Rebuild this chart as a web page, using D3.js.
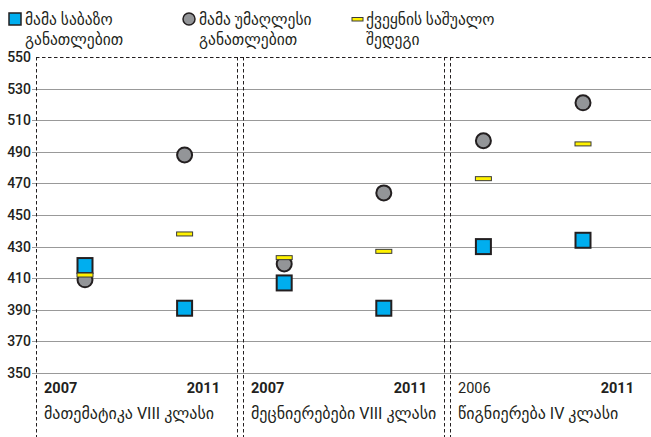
<!DOCTYPE html>
<html>
<head>
<meta charset="utf-8">
<script src="https://cdn.jsdelivr.net/npm/d3@7"></script>
<style>
  body { margin: 0; background: #fff; }
  svg text { font-family: Roboto, "DejaVu Sans", sans-serif; fill: #231f20; }
</style>
</head>
<body>
<div id="chart"></div>
<script>
const subjects = ["მათემატიკა VIII კლასი", "მეცნიერებები VIII კლასი", "წიგნიერება IV კლასი"];
const years = [["2007", "2011"], ["2007", "2011"], ["2006", "2011"]];
const motherBasic = [418, 391, 407, 391, 430, 434];
const motherHigher = [409, 488, 419, 464, 497, 521];
const countryAvg = [412, 438, 423, 427, 473, 495];
const yTicks = [350, 370, 390, 410, 430, 450, 470, 490, 510, 530, 550];
const legendLabels = [
    ["მამა საბაზო", "განათლებით"],
    ["მამა უმაღლესი", "განათლებით"],
    ["ქვეყნის საშუალო", "შედეგი"]
];

const width = 651, height = 437;
const plotLeft = 36, plotRight = 651, plotTop = 57, plotBottom = 373;
const ink = "#231f20";

const svg = d3.select("#chart")
    .append("svg")
    .attr("width", width)
    .attr("height", height);

const keys = subjects.flatMap((s, i) => years[i].map(yr => i + "-" + yr));

const panel = d3.scaleBand()
    .domain(subjects)
    .range([33, 654]);

const x = d3.scalePoint()
    .domain(keys)
    .range([85, 583]);

const y = d3.scaleLinear()
    .domain([350, 550])
    .range([plotBottom, plotTop]);

// grid lines + tick labels
svg.append("g")
    .selectAll("line")
    .data(yTicks.slice(0, -1))
    .enter()
    .append("line")
    .attr("x1", plotLeft - 4)
    .attr("x2", plotRight)
    .attr("y1", d => Math.round(y(d)) + 0.5)
    .attr("y2", d => Math.round(y(d)) + 0.5)
    .attr("stroke", "#999")
    .attr("stroke-width", 1);

svg.append("g")
    .selectAll("text")
    .data(yTicks)
    .enter()
    .append("text")
    .attr("x", plotLeft - 5)
    .attr("y", d => y(d) + 5)
    .attr("text-anchor", "end")
    .attr("font-size", 14)
    .attr("font-weight", 500)
    .text(d => d);

// dashed frame
const dash = "3.5,2.5";
svg.append("line")
    .attr("x1", plotLeft).attr("x2", plotRight)
    .attr("y1", plotTop + 0.5).attr("y2", plotTop + 0.5)
    .attr("stroke", ink).attr("stroke-dasharray", dash);

svg.append("line")
    .attr("x1", plotLeft + 0.5).attr("x2", plotLeft + 0.5)
    .attr("y1", plotTop).attr("y2", height)
    .attr("stroke", ink).attr("stroke-dasharray", dash);

subjects.slice(1).forEach(s => {
    const p = Math.round(panel(s));
    [-3, 3].forEach(o => {
        svg.append("line")
            .attr("x1", p + o + 0.5).attr("x2", p + o + 0.5)
            .attr("y1", plotTop).attr("y2", height)
            .attr("stroke", ink).attr("stroke-dasharray", dash);
    });
});

// year + subject labels
subjects.forEach((s, i) => {
    const x0 = panel(s), x1 = panel(s) + panel.bandwidth();
    svg.append("text")
        .attr("x", x0 + 11).attr("y", 393)
        .attr("font-size", 14.5).attr("font-weight", i == 2 ? "normal" : "bold")
        .text(years[i][0]);
    svg.append("text")
        .attr("x", x1 - 20).attr("y", 393)
        .attr("text-anchor", "end")
        .attr("font-size", 14.5).attr("font-weight", "bold")
        .text(years[i][1]);
    svg.append("text")
        .attr("x", x0 + 11).attr("y", 419)
        .attr("font-size", 16)
        .text(s);
});

// markers
svg.append("g")
    .selectAll("circle")
    .data(motherHigher)
    .enter()
    .append("circle")
    .attr("cx", (d, i) => x(keys[i]))
    .attr("cy", d => y(d))
    .attr("r", 7.5)
    .attr("fill", "#939598")
    .attr("stroke", ink)
    .attr("stroke-width", 2);

svg.append("g")
    .selectAll("rect")
    .data(motherBasic)
    .enter()
    .append("rect")
    .attr("x", (d, i) => x(keys[i]) - 7.5)
    .attr("y", d => y(d) - 7.5)
    .attr("width", 15)
    .attr("height", 15)
    .attr("fill", "#00aeef")
    .attr("stroke", ink)
    .attr("stroke-width", 2);

svg.append("g")
    .selectAll("rect")
    .data(countryAvg)
    .enter()
    .append("rect")
    .attr("x", (d, i) => x(keys[i]) - 8)
    .attr("y", d => y(d) - 2)
    .attr("width", 16)
    .attr("height", 4)
    .attr("fill", "#fff200")
    .attr("stroke", "#3a3a3a")
    .attr("stroke-width", 1);

// legend
const legendX = [9, 183, 352];
const legendTextX = [25, 199, 366];
const lg = svg.append("g");
lg.append("rect")
    .attr("x", legendX[0]).attr("y", 13)
    .attr("width", 12).attr("height", 12)
    .attr("fill", "#00aeef").attr("stroke", ink).attr("stroke-width", 1.5);
lg.append("circle")
    .attr("cx", legendX[1] + 6).attr("cy", 19).attr("r", 6)
    .attr("fill", "#939598").attr("stroke", ink).attr("stroke-width", 1.5);
lg.append("rect")
    .attr("x", legendX[2]).attr("y", 17.5)
    .attr("width", 11).attr("height", 3.5)
    .attr("fill", "#fff200").attr("stroke", "#3a3a3a").attr("stroke-width", 1);

legendLabels.forEach((lines, i) => {
    lines.forEach((t, j) => {
        lg.append("text")
            .attr("x", legendTextX[i])
            .attr("y", 25 + j * 20)
            .attr("font-size", 15.5)
            .text(t);
    });
});
</script>
</body>
</html>
